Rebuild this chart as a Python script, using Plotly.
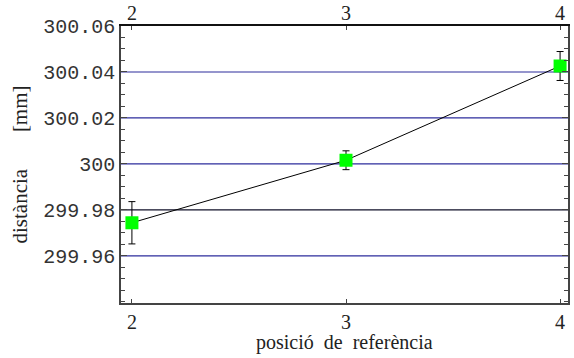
import plotly.graph_objects as go

# Measured distance at each reference position, with its uncertainty
posicio = [2, 3, 4]
distancia = [299.9744, 300.0016, 300.0426]
incert = [0.0092, 0.0041, 0.0063]

y_ticks = [299.96, 299.98, 300.0, 300.02, 300.04, 300.06]
y_labels = ["299.96", "299.98", "300", "300.02", "300.04", "300.06"]
x_ticks = [2, 3, 4]
grid_blue = [299.96, 300.0, 300.02, 300.04]
grid_dark = [299.98]

fig = go.Figure()

fig.add_trace(go.Scatter(
    x=posicio, y=distancia,
    mode="lines+markers",
    line=dict(color="black", width=1),
    marker=dict(symbol="square", size=13, color="#00ff00", line=dict(width=0)),
    error_y=dict(type="data", array=incert, color="black", thickness=1, width=3.5),
    showlegend=False,
))
# invisible trace to carry the top axis (ticks only; its labels are annotations)
fig.add_trace(go.Scatter(x=posicio, y=distancia, xaxis="x2", mode="markers",
                         marker=dict(opacity=0), showlegend=False, hoverinfo="skip"))

for g in grid_blue:
    fig.add_shape(type="line", xref="paper", x0=0, x1=1, y0=g, y1=g,
                  line=dict(color="#2c2c9c", width=1.2), layer="below")
for g in grid_dark:
    fig.add_shape(type="line", xref="paper", x0=0, x1=1, y0=g, y1=g,
                  line=dict(color="#101028", width=1.2), layer="below")

mono = dict(family="Liberation Mono, Courier New, monospace", size=20, color="#333")
serif = dict(family="Liberation Serif, Times New Roman, serif", size=20, color="#222")
nb = "\u00a0"

# top axis labels
for v in x_ticks:
    fig.add_annotation(x=v, xref="x2", y=1, yref="paper", yanchor="bottom",
                       text=str(v), showarrow=False, font=serif, yshift=1,
                       borderpad=0)

# x-axis title
fig.add_annotation(x=0.5, xref="paper", y=0, yref="paper", yanchor="top",
                   yshift=-27, showarrow=False, font=serif, borderpad=0,
                   text=f"posició{nb}{nb}de{nb}{nb}referència")

xrange = [1.949, 4.037]
fig.update_layout(
    width=574, height=358,
    margin=dict(l=121, r=6, t=26, b=55, autoexpand=False),
    plot_bgcolor="white", paper_bgcolor="white",
    xaxis=dict(range=xrange, tickvals=x_ticks, ticktext=[str(v) for v in x_ticks],
               ticks="inside", ticklen=4, tickcolor="#444", showgrid=False, zeroline=False,
               showline=True, linecolor="#444", linewidth=1.5, mirror=False,
               tickfont=serif, automargin=False),
    xaxis2=dict(range=xrange, overlaying="x", side="top", tickvals=x_ticks,
                showticklabels=False, ticks="inside", ticklen=4, tickcolor="#444",
                showgrid=False, zeroline=False, showline=True, linecolor="#111", linewidth=1.5,
                automargin=False),
    yaxis=dict(range=[299.9395, 300.06], tickvals=y_ticks, ticktext=y_labels,
               ticks="inside", ticklen=6, tickcolor="#444", showgrid=False, zeroline=False,
               showline=True, linecolor="#444", linewidth=1.5, mirror="ticks",
               tickfont=mono, automargin=False,
               minor=dict(tickvals=[299.94 + 0.005 * i for i in range(25)],
                          ticks="inside", ticklen=4, tickcolor="#444"),
               title=dict(text=f"distància{nb * 7}[mm]", font=dict(serif, size=21), standoff=10)),
)

fig.write_html("out.html")
